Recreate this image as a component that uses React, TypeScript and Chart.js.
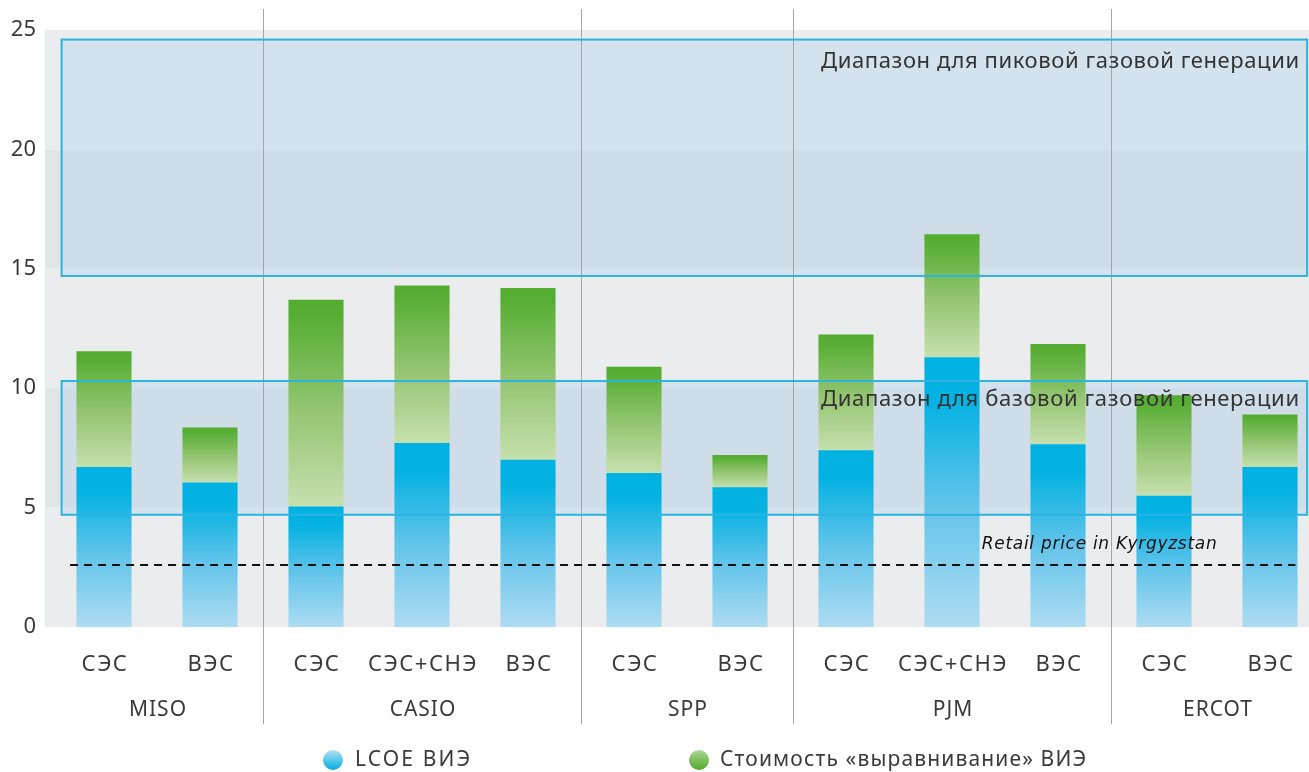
import React, { useEffect, useRef } from 'react';
import { Chart, registerables } from 'chart.js';

Chart.register(...registerables);

// ---------- data ----------
const categories = ['СЭС', 'ВЭС', 'СЭС', 'СЭС+СНЭ', 'ВЭС', 'СЭС', 'ВЭС', 'СЭС', 'СЭС+СНЭ', 'ВЭС', 'СЭС', 'ВЭС'];
const groupNames = ['MISO', 'CASIO', 'SPP', 'PJM', 'ERCOT'];
const groupSizes = [2, 3, 2, 3, 2];
const lcoe = [6.7, 6.05, 5.05, 7.7, 7.0, 6.45, 5.85, 7.4, 11.3, 7.65, 5.5, 6.7];
const balancing = [4.85, 2.3, 8.65, 6.6, 7.2, 4.45, 1.35, 4.85, 5.15, 4.2, 4.2, 2.2];
const yTicks = [0, 5, 10, 15, 20, 25];
const peakRange = [14.7, 24.6];
const baseRange = [4.7, 10.3];
const retailPrice = 2.6;
const seriesNames = ['LCOE ВИЭ', 'Стоимость «выравнивание» ВИЭ'];
const peakLabel = 'Диапазон для пиковой газовой генерации';
const baseLabel = 'Диапазон для базовой газовой генерации';
const retailLabel = 'Retail price in Kyrgyzstan';

// ---------- style ----------
const W = 1340;
const H = 772;
const FONT = '"Noto Sans", "Open Sans", sans-serif';
const TEXT = '#3a3a3a';
const BOX_LINE = '#2bb4e2';
const BOX_FILL = 'rgba(166, 210, 235, 0.35)';

function fitText(ctx: CanvasRenderingContext2D, text: string, x: number, y: number, font: string, width: number) {
  ctx.font = font;
  (ctx as any).letterSpacing = '0px';
  const w0 = ctx.measureText(text).width;
  const ls = (width - w0) / Math.max(1, text.length - 1);
  (ctx as any).letterSpacing = ls + 'px';
  ctx.textAlign = 'left';
  ctx.fillText(text, x, y);
  (ctx as any).letterSpacing = '0px';
}

function blueFill(c: any) {
  const chart = c.chart;
  const y = chart.scales && chart.scales.y;
  if (!y || c.dataIndex === undefined || !chart.chartArea) return '#00b1e1';
  const top = y.getPixelForValue(lcoe[c.dataIndex]);
  const bot = y.getPixelForValue(0);
  const g = chart.ctx.createLinearGradient(0, top, 0, bot);
  g.addColorStop(0, '#00b1e1');
  g.addColorStop(0.16, '#05b2e2');
  g.addColorStop(0.55, '#62c4ea');
  g.addColorStop(1, '#aedcf2');
  return g;
}

function greenFill(c: any) {
  const chart = c.chart;
  const y = chart.scales && chart.scales.y;
  if (!y || c.dataIndex === undefined || !chart.chartArea) return '#56ad32';
  const i = c.dataIndex;
  const top = y.getPixelForValue(lcoe[i] + balancing[i]);
  const bot = y.getPixelForValue(lcoe[i]);
  const g = chart.ctx.createLinearGradient(0, top, 0, bot);
  g.addColorStop(0, '#54ac30');
  g.addColorStop(0.08, '#58ae35');
  g.addColorStop(0.55, '#96c674');
  g.addColorStop(1, '#c6e0ae');
  return g;
}

const decor = {
  id: 'decor',
  beforeDatasetsDraw(chart: any) {
    const { ctx, scales } = chart;
    const x = scales.x;
    const y = scales.y;
    const w = x.getPixelForValue(1) - x.getPixelForValue(0);
    ctx.save();
    // background bands
    for (let k = 0; k < yTicks.length - 1; k++) {
      const top = y.getPixelForValue(yTicks[k + 1]);
      const bot = y.getPixelForValue(yTicks[k]);
      ctx.fillStyle = k % 2 === 0 ? '#ebecee' : '#e3e4e6';
      ctx.fillRect(x.left - 6, top, chart.width - (x.left - 6), bot - top);
    }
    // range box fills
    const bx1 = x.getPixelForValue(0) - 0.4 * w;
    const bx2 = x.getPixelForValue(categories.length - 1) + 0.35 * w;
    [peakRange, baseRange].forEach((r) => {
      const t = y.getPixelForValue(r[1]);
      const b = y.getPixelForValue(r[0]);
      ctx.fillStyle = BOX_FILL;
      ctx.fillRect(bx1, t, bx2 - bx1, b - t);
    });
    // group separators
    ctx.strokeStyle = '#a2a6aa';
    ctx.lineWidth = 1;
    let cum = 0;
    for (let g = 0; g < groupSizes.length - 1; g++) {
      cum += groupSizes[g];
      const px = Math.round(x.getPixelForValue(cum - 1) + w / 2) + 0.5;
      ctx.beginPath();
      ctx.moveTo(px, 9);
      ctx.lineTo(px, 724);
      ctx.stroke();
    }
    ctx.restore();
  },
  afterDatasetsDraw(chart: any) {
    const { ctx, scales } = chart;
    const x = scales.x;
    const y = scales.y;
    const w = x.getPixelForValue(1) - x.getPixelForValue(0);
    ctx.save();
    // box borders + labels
    const bx1 = x.getPixelForValue(0) - 0.4 * w;
    const bx2 = x.getPixelForValue(categories.length - 1) + 0.35 * w;
    ctx.strokeStyle = BOX_LINE;
    ctx.lineWidth = 2;
    [peakRange, baseRange].forEach((r) => {
      const t = y.getPixelForValue(r[1]);
      const b = y.getPixelForValue(r[0]);
      ctx.strokeRect(bx1, t, bx2 - bx1, b - t);
    });
    ctx.fillStyle = '#333';
    ctx.textBaseline = 'middle';
    const labelW = 478;
    fitText(ctx, peakLabel, bx2 - 8 - labelW, y.getPixelForValue(peakRange[1]) + 22, '22px ' + FONT, labelW);
    fitText(ctx, baseLabel, bx2 - 8 - labelW, y.getPixelForValue(baseRange[1]) + 19, '22px ' + FONT, labelW);

    // retail dashed line
    const ry = Math.round(y.getPixelForValue(retailPrice));
    ctx.strokeStyle = '#111';
    ctx.lineWidth = 2;
    ctx.setLineDash([8, 6]);
    ctx.beginPath();
    ctx.moveTo(x.getPixelForValue(0) - 0.32 * w, ry);
    ctx.lineTo(x.getPixelForValue(categories.length - 1) + 0.24 * w, ry);
    ctx.stroke();
    ctx.setLineDash([]);
    ctx.fillStyle = '#111';
    fitText(ctx, retailLabel, x.getPixelForValue(9) - 0.72 * w, ry - 20, 'italic 17px "DejaVu Sans", sans-serif', 235);

    // x category labels
    ctx.fillStyle = TEXT;
    ctx.textAlign = 'center';
    ctx.font = '22px ' + FONT;
    (ctx as any).letterSpacing = '1.5px';
    categories.forEach((c, i) => {
      ctx.fillText(c, x.getPixelForValue(i) + 1, 665);
    });
    // group labels
    ctx.font = '21px ' + FONT;
    (ctx as any).letterSpacing = '1px';
    let start = 0;
    groupNames.forEach((g, k) => {
      const end = start + groupSizes[k] - 1;
      const cx = (x.getPixelForValue(start) + x.getPixelForValue(end)) / 2;
      ctx.fillText(g, cx + 1, 710);
      start = end + 1;
    });
    (ctx as any).letterSpacing = '0px';

    // legend
    const legend = [
      { cx: 333, tx: 355, tw: 115, top: '#b4e0f5', bot: '#00ade0', label: seriesNames[0] },
      { cx: 699, tx: 720, tw: 366, top: '#acd893', bot: '#4ea82b', label: seriesNames[1] },
    ];
    legend.forEach((l) => {
      const g = ctx.createLinearGradient(0, 750, 0, 770);
      g.addColorStop(0, l.top);
      g.addColorStop(1, l.bot);
      ctx.fillStyle = g;
      ctx.beginPath();
      ctx.arc(l.cx, 760, 10, 0, Math.PI * 2);
      ctx.fill();
      ctx.fillStyle = TEXT;
      ctx.textBaseline = 'middle';
      fitText(ctx, l.label, l.tx, 760, '21px ' + FONT, l.tw);
    });
    ctx.restore();
  },
};

export default function App() {
  const ref = useRef<HTMLCanvasElement | null>(null);
  useEffect(() => {
    if (!ref.current) return;
    const chart = new Chart(ref.current, {
      type: 'bar',
      data: {
        labels: categories,
        datasets: [
          { label: seriesNames[0], data: lcoe, backgroundColor: blueFill, borderWidth: 0, categoryPercentage: 1, barPercentage: 0.52 },
          { label: seriesNames[1], data: balancing, backgroundColor: greenFill, borderWidth: 0, categoryPercentage: 1, barPercentage: 0.52 },
        ],
      },
      options: {
        responsive: false,
        animation: false,
        devicePixelRatio: 1,
        layout: { padding: { top: 30, right: 17, bottom: 0, left: 0 } },
        plugins: { legend: { display: false }, tooltip: { enabled: false } },
        scales: {
          x: {
            stacked: true,
            grid: { display: false, drawTicks: false },
            border: { display: false },
            ticks: { display: false },
            afterFit: (s: any) => { s.height = 145; },
          },
          y: {
            stacked: true,
            min: 0,
            max: 25,
            grid: { display: false, drawTicks: false },
            border: { display: false },
            ticks: { stepSize: 5, padding: 15, color: TEXT, font: { family: FONT, size: 22 } },
            afterFit: (s: any) => { s.width = 51; },
          },
        },
      },
      plugins: [decor],
    } as any);
    return () => chart.destroy();
  }, []);
  return (
    <div style={{ position: 'fixed', left: 0, top: 0, width: '100vw', height: '100vh', overflow: 'hidden', background: '#fff' }}>
      <canvas ref={ref} width={W} height={H} style={{ display: 'block' }} />
    </div>
  );
}
